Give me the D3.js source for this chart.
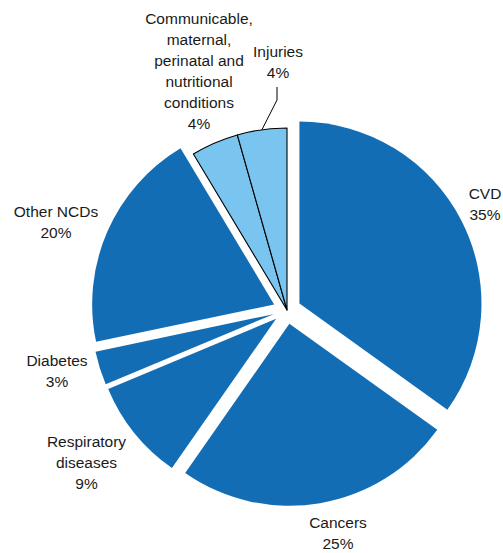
<!DOCTYPE html>
<html>
<head>
<meta charset="utf-8">
<script src="https://cdn.jsdelivr.net/npm/d3@7"></script>
<style>
  html, body { margin: 0; padding: 0; background: #ffffff; }
  svg { display: block; }
  text { font-family: "Liberation Sans", Arial, Helvetica, sans-serif; font-size: 15.5px; fill: #1a1a1a; }
</style>
</head>
<body>
<svg id="chart" width="503" height="553"></svg>
<script>
// ---- data ----
const categories = ["CVD", "Cancers", "Respiratory diseases", "Diabetes", "Other NCDs",
                    "Communicable, maternal, perinatal and nutritional conditions", "Injuries"];
// slice shares (labels show rounded values)
const shares = [34.9, 24.8, 9.0, 3.0, 19.7, 4.2, 4.4];
const percentLabels = ["35%", "25%", "9%", "3%", "20%", "4%", "4%"];
const groups = ["NCD", "NCD", "NCD", "NCD", "NCD", "Other", "Other"];
const labelNames = [
  ["CVD"],
  ["Cancers"],
  ["Respiratory", "diseases"],
  ["Diabetes"],
  ["Other NCDs"],
  ["Communicable,", "maternal,", "perinatal and", "nutritional", "conditions"],
  ["Injuries"]
];

// ---- layout ----
const cx = 287, cy = 310, R = 182, explode = 14;
const labelCenters = [[485, 204], [338, 533], [86.5, 462], [57, 371], [56, 222], [199, 70.5], [278, 62]];
const lineStep = 21;

const color = d3.scaleOrdinal().domain(["NCD", "Other"]).range(["#136db5", "#79c5ef"]);

const svg = d3.select("#chart");
const g = svg.append("g").attr("transform", `translate(${cx},${cy})`);

const pie = d3.pie().sort(null).value(d => d.v).startAngle(0).endAngle(2 * Math.PI);
const data = categories.map((c, i) => ({ c, v: shares[i], grp: groups[i], i }));
const arcs = pie(data);
const arc = d3.arc().innerRadius(0).outerRadius(R);

g.selectAll("path.slice")
  .data(arcs)
  .join("path")
  .attr("class", "slice")
  .attr("d", arc)
  .attr("transform", d => {
    if (d.data.grp !== "NCD") return null;
    const m = (d.startAngle + d.endAngle) / 2;
    return `translate(${explode * Math.sin(m)},${-explode * Math.cos(m)})`;
  })
  .attr("fill", d => color(d.data.grp))
  .attr("stroke", d => d.data.grp === "NCD" ? "none" : "#000")
  .attr("stroke-width", 1.1)
  .attr("stroke-linejoin", "round");

// leader line for Injuries
const inj = arcs[6];
const mInj = (inj.startAngle + inj.endAngle) / 2;
const p0 = [cx + R * Math.sin(mInj), cy - R * Math.cos(mInj)];
svg.append("path")
  .attr("d", d3.line()([p0, [labelCenters[6][0] - 1, 100], [labelCenters[6][0] - 1, 87]]))
  .attr("fill", "none")
  .attr("stroke", "#000")
  .attr("stroke-width", 1);

// labels
labelNames.forEach((names, i) => {
  const lines = names.concat([percentLabels[i]]);
  const [lx, ly] = labelCenters[i];
  const n = lines.length;
  const t = svg.append("text").attr("text-anchor", "middle");
  lines.forEach((s, k) => {
    t.append("tspan")
      .attr("x", lx)
      .attr("y", ly + (k - (n - 1) / 2) * lineStep + 5.5)
      .text(s);
  });
});
</script>
</body>
</html>
